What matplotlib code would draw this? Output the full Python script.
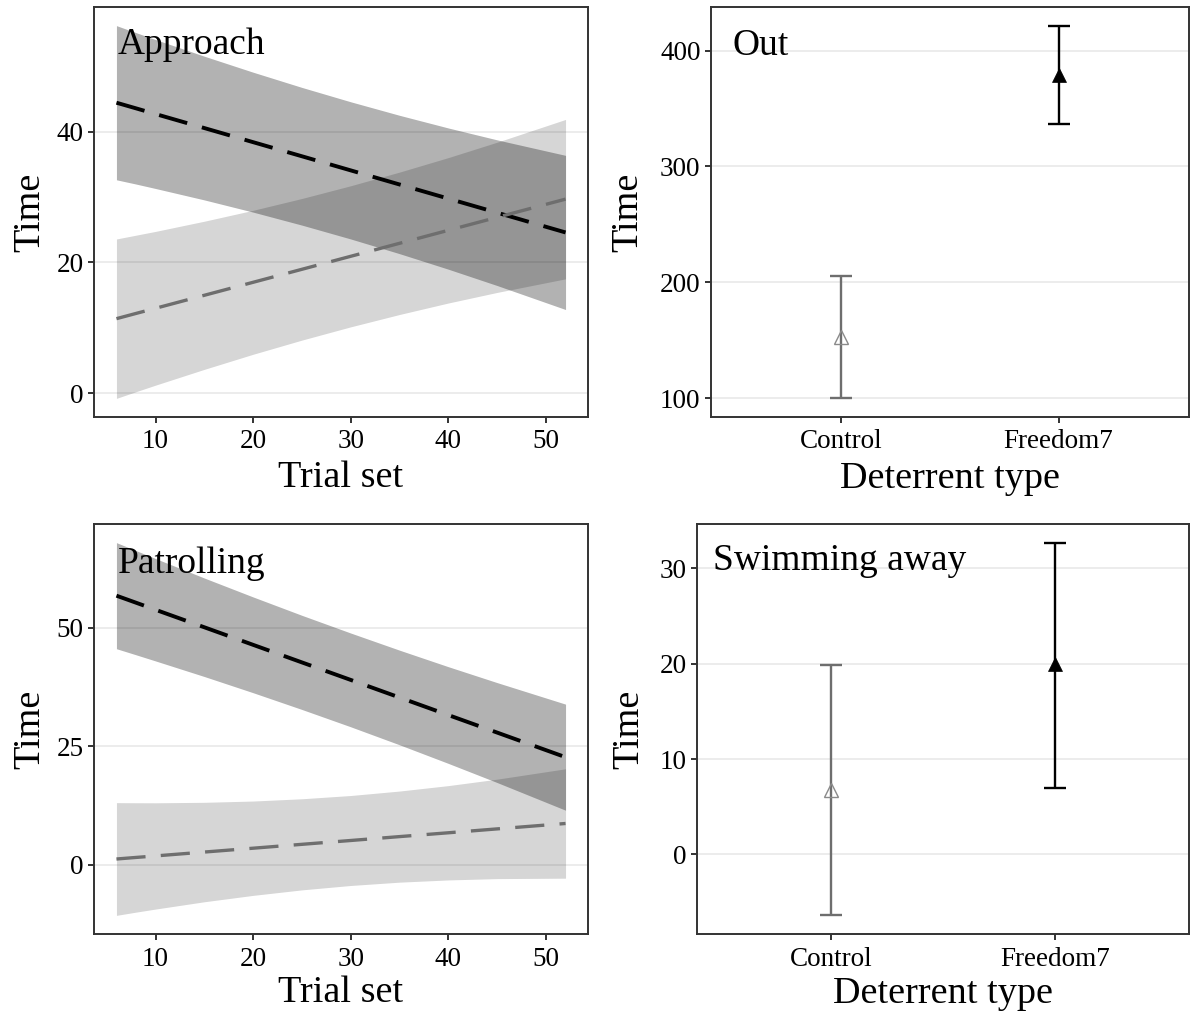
import matplotlib
matplotlib.use("Agg")
import matplotlib.pyplot as plt

plt.rcParams["font.family"] = ["Liberation Serif", "DejaVu Serif"]
plt.rcParams["lines.scale_dashes"] = False

# ---- data -------------------------------------------------------------
trial_set = [6, 8, 10, 15, 20, 25, 30, 35, 40, 45, 52]

# Approach: fitted time with confidence band
appr_f7_fit = [44.46, 43.60, 42.73, 40.58, 38.42, 36.26, 34.10, 31.94, 29.78, 27.62, 24.60]
appr_f7_lo = [32.66, 32.01, 31.33, 29.58, 27.71, 25.72, 23.60, 21.35, 18.97, 16.47, 12.80]
appr_f7_hi = [56.26, 55.19, 54.13, 51.58, 49.13, 46.80, 44.60, 42.53, 40.59, 38.77, 36.40]
appr_ct_fit = [11.40, 12.20, 12.99, 14.98, 16.97, 18.96, 20.95, 22.94, 24.93, 26.92, 29.70]
appr_ct_lo = [-0.80, 0.22, 1.22, 3.64, 5.95, 8.12, 10.15, 12.04, 13.80, 15.42, 17.50]
appr_ct_hi = [23.60, 24.18, 24.76, 26.32, 27.99, 29.80, 31.75, 33.84, 36.06, 38.42, 41.90]

# Patrolling: fitted time with confidence band
patr_f7_fit = [56.80, 55.32, 53.83, 50.13, 46.42, 42.71, 39.01, 35.30, 31.59, 27.89, 22.70]
patr_f7_lo = [45.60, 44.32, 43.02, 39.73, 36.31, 32.77, 29.11, 25.31, 21.38, 17.34, 11.50]
patr_f7_hi = [68.00, 66.32, 64.64, 60.53, 56.53, 52.65, 48.91, 45.29, 41.80, 38.44, 33.90]
patr_ct_fit = [1.20, 1.53, 1.85, 2.67, 3.48, 4.30, 5.11, 5.93, 6.74, 7.56, 8.70]
patr_ct_lo = [-10.70, -10.02, -9.37, -7.83, -6.48, -5.32, -4.39, -3.69, -3.22, -2.94, -2.85]
patr_ct_hi = [13.10, 13.08, 13.07, 13.17, 13.44, 13.92, 14.61, 15.55, 16.70, 18.06, 20.25]

deterrents = ["Control", "Freedom7"]
out_mean = [152.8, 379.0]
out_lo = [100.0, 336.6]
out_hi = [205.7, 421.5]
swim_mean = [6.8, 20.0]
swim_lo = [-6.4, 7.0]
swim_hi = [19.9, 32.7]

# ---- styling ------------------------------------------------------------
F7_COLOR = "black"
CT_COLOR = "#6e6e6e"
CT_MARK = "#8a8a8a"
SPINE = "#333333"
GRID = "#ebebeb"
TICK_FS = 19.5
TITLE_FS = 27.5
PANEL_FS = 27
DASH = (0, (21, 11))

fig = plt.figure(figsize=(11.90, 10.19), dpi=100)

W, H = 1190.0, 1019.0


def add_axes(left, top, right, bottom):
    return fig.add_axes([left / W, 1 - bottom / H, (right - left) / W, (bottom - top) / H])


ax_tl = add_axes(94, 7, 588, 417)
ax_tr = add_axes(711, 7, 1189, 417)
ax_bl = add_axes(94, 524, 588, 934)
ax_br = add_axes(697, 524, 1189, 934)


def style(ax, yticks):
    ax.set_yticks(yticks)
    ax.set_axisbelow(True)
    ax.yaxis.grid(True, color=GRID, linewidth=1.3)
    ax.xaxis.grid(False)
    for s in ax.spines.values():
        s.set_color(SPINE)
        s.set_linewidth(1.4)
    ax.tick_params(direction="out", length=4, width=1.4, color=SPINE,
                   labelsize=TICK_FS, labelcolor="black", pad=3.5)
    ax.tick_params(axis="x", pad=5)


def trend_panel(ax, f7, ct, yticks, label, xlab_y, lab_y):
    f7_fit, f7_lo, f7_hi = f7
    ct_fit, ct_lo, ct_hi = ct
    ax.fill_between(trial_set, f7_lo, f7_hi, color="black", alpha=0.30, linewidth=0)
    ax.fill_between(trial_set, ct_lo, ct_hi, color="black", alpha=0.16, linewidth=0)
    ax.plot(trial_set, f7_fit, color=F7_COLOR, linewidth=2.8, linestyle=DASH)
    ax.plot(trial_set, ct_fit, color=CT_COLOR, linewidth=2.4, linestyle=DASH)
    ax.margins(x=0.05, y=0.05)
    ax.set_xticks([10, 20, 30, 40, 50])
    style(ax, yticks)
    ax.set_xlabel("Trial set", fontsize=TITLE_FS, va="baseline")
    ax.xaxis.set_label_coords(0.5, xlab_y)
    ax.set_ylabel("Time", fontsize=TITLE_FS, va="center")
    ax.yaxis.set_label_coords(-0.13, 0.5)
    ax.text(0.0486, lab_y, label, transform=ax.transAxes, fontsize=PANEL_FS,
            ha="left", va="baseline")


def point_panel(ax, mean, lo, hi, yticks, label, lab_x, lab_y, xlab_y, ylab_x):
    xs = [1, 2]
    colors = [CT_COLOR, F7_COLOR]
    for x, m, l, h, c in zip(xs, mean, lo, hi, colors):
        ax.errorbar([x], [m], yerr=[[m - l], [h - m]], fmt="none", ecolor=c,
                    elinewidth=1.7, capsize=8, capthick=1.7)
    ax.plot([xs[0]], [mean[0]], marker="^", markersize=10.5, markerfacecolor="none",
            markeredgecolor=CT_MARK, markeredgewidth=1.0, linestyle="none")
    ax.plot([xs[1]], [mean[1]], marker="^", markersize=10.5, markerfacecolor=F7_COLOR,
            markeredgecolor=F7_COLOR, markeredgewidth=0.5, linestyle="none")
    ax.set_xlim(0.4, 2.6)
    ax.margins(y=0.05)
    ax.set_xticks(xs)
    ax.set_xticklabels(deterrents)
    style(ax, yticks)
    ax.set_xlabel("Deterrent type", fontsize=TITLE_FS, va="baseline")
    ax.xaxis.set_label_coords(0.5, xlab_y)
    ax.set_ylabel("Time", fontsize=TITLE_FS, va="center")
    ax.yaxis.set_label_coords(ylab_x, 0.5)
    ax.text(lab_x, lab_y, label, transform=ax.transAxes, fontsize=PANEL_FS,
            ha="left", va="baseline")


trend_panel(ax_tl, (appr_f7_fit, appr_f7_lo, appr_f7_hi),
            (appr_ct_fit, appr_ct_lo, appr_ct_hi), [0, 20, 40], "Approach", -0.171, 0.885)
trend_panel(ax_bl, (patr_f7_fit, patr_f7_lo, patr_f7_hi),
            (patr_ct_fit, patr_ct_lo, patr_ct_hi), [0, 25, 50], "Patrolling", -0.165, 0.88)
point_panel(ax_tr, out_mean, out_lo, out_hi, [100, 200, 300, 400], "Out",
            0.044, 0.883, -0.173, -0.1736)
point_panel(ax_br, swim_mean, swim_lo, swim_hi, [0, 10, 20, 30], "Swimming away",
            0.0325, 0.888, -0.168, -0.139)

fig.savefig("out.png", dpi=100, facecolor="white")
